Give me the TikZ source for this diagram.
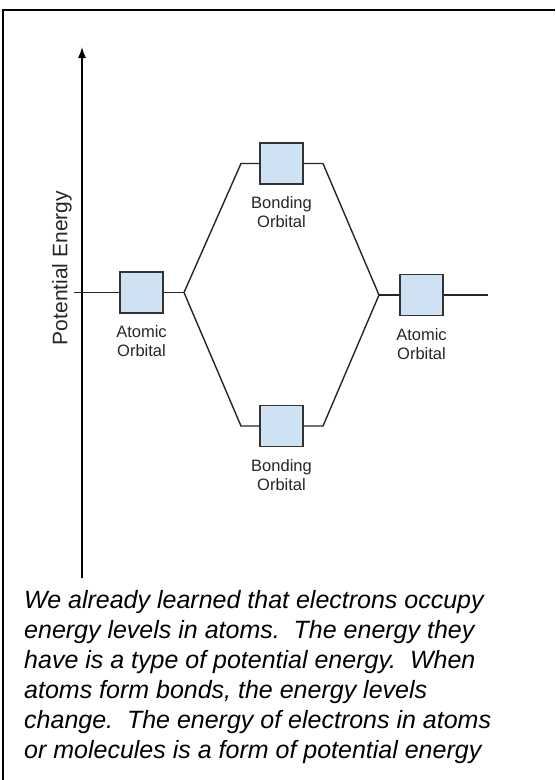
\documentclass[tikz,border=0pt]{standalone}
\usepackage{fontspec}
\setmainfont{Liberation Sans}
\usepackage{xcolor}
\usetikzlibrary{positioning,arrows.meta}
\definecolor{orbfill}{RGB}{207,226,243}
\definecolor{orbline}{RGB}{51,51,51}

\begin{document}
\begin{tikzpicture}[x=1pt, y=-1pt, orb/.style={draw=orbline, line width=1.6pt, fill=orbfill, minimum width=43pt, minimum height=41pt, inner sep=0pt}, lbl/.style={align=center, font=\fontsize{16.5}{19}\selectfont, inner sep=0pt, text=black!85}, level/.style={line width=1.4pt, draw=black!85}]
\useasboundingbox (0,0) rectangle (555,780);
% frame
\draw[line width=2pt] (3,780) -- (3,10) -- (555,10);
% energy axis
\coordinate (axbot) at (82,578);
\coordinate (axtop) at (82,47);
\draw[-{Latex[length=11pt,width=8pt]}, line width=1.3pt] (axbot) -- (axtop);
\node[lbl, rotate=90, font=\fontsize{21}{24}\selectfont] (ylab) at (62,268) {Potential Energy};
% orbitals
\node[orb] (atomL) at (141.5,292.5) {};
\node[orb] (atomR) at (421.5,295) {};
\node[orb] (bondT) at (281.5,163.5) {};
\node[orb] (bondB) at (281.5,426) {};
\node[lbl, below=12pt of atomL] (atomLlbl) {Atomic\\Orbital};
\node[lbl, below=12pt of atomR] (atomRlbl) {Atomic\\Orbital};
\node[lbl, below=12pt of bondT] (bondTlbl) {Bonding\\Orbital};
\node[lbl, below=12pt of bondB] (bondBlbl) {Bonding\\Orbital};
% junctions and kinks
\coordinate (lstart) at (74,292.5);
\coordinate (rend) at (488,295);
\coordinate (junL) at (184,292.5);
\coordinate (junR) at (379,295);
\coordinate (kinkTL) at (241,163.5);
\coordinate (kinkTR) at (323,163.5);
\coordinate (kinkBL) at (241,426);
\coordinate (kinkBR) at (323,426);
\draw[level] (lstart) -- (atomL.west);
\draw[level] (atomL.east) -- (junL);
\draw[level] (junL) -- (kinkTL) -- (bondT.west);
\draw[level] (bondT.east) -- (kinkTR) -- (junR);
\draw[level] (junL) -- (kinkBL) -- (bondB.west);
\draw[level] (bondB.east) -- (kinkBR) -- (junR);
\draw[level] (junR) -- (atomR.west);
\draw[level] (atomR.east) -- (rend);
% caption
\node[anchor=north west, inner sep=0pt, align=left, font=\itshape\fontsize{25}{30}\selectfont] (para) at (24,590) {We already learned that electrons occupy\\energy levels in atoms.\ \ The energy they\\have is a type of potential energy.\ \ When\\atoms form bonds, the energy levels\\change.\ \ The energy of electrons in atoms\\or molecules is a form of potential energy};
\end{tikzpicture}
\end{document}
